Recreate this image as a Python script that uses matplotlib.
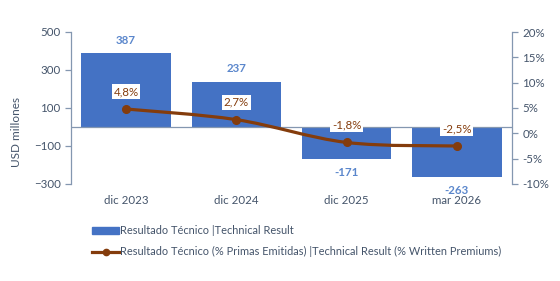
import matplotlib.pyplot as plt
from matplotlib.path import Path
from matplotlib.patches import PathPatch, Patch
from matplotlib.lines import Line2D

plt.rcParams['font.family'] = ['Lato', 'DejaVu Sans']

categories = ['dic 2023', 'dic 2024', 'dic 2025', 'mar 2026']
resultado = [387, 237, -171, -263]
pct = [4.8, 2.7, -1.8, -2.5]
pct_labels = ['4,8%', '2,7%', '-1,8%', '-2,5%']

bar_color = '#4472C4'
line_color = '#843C0C'
text_color = '#44546A'
axis_color = '#8497B0'

fig = plt.figure(figsize=(5.6, 2.81), dpi=100)
ax = fig.add_axes([71 / 560, 1 - 184 / 281, 441 / 560, 152 / 281])
ax2 = ax.twinx()

x = list(range(len(categories)))
ax.bar(x, resultado, width=0.81, color=bar_color, zorder=2)
ax.set_xlim(-0.5, len(categories) - 0.5)
ax.set_ylim(-300, 500)
ax.set_yticks([-300, -100, 100, 300, 500])
ax.axhline(0, color=axis_color, lw=0.9, zorder=3)

for i, v in enumerate(resultado):
    off = 9.5 if v > 0 else -9.5
    ax.annotate(str(v), (i, v), xytext=(0, off), textcoords='offset points',
                ha='center', va='center', fontsize=8.3, fontweight='bold',
                color='#5B87CC')

# smoothed line as bezier path through the data points
pts = list(zip(x, pct))
verts = [pts[0]]
codes = [Path.MOVETO]
n = len(pts)
for i in range(n - 1):
    p0 = pts[max(i - 1, 0)]
    p1 = pts[i]
    p2 = pts[i + 1]
    p3 = pts[min(i + 2, n - 1)]
    c1 = (p1[0] + (p2[0] - p0[0]) / 6, p1[1] + (p2[1] - p0[1]) / 6)
    c2 = (p2[0] - (p3[0] - p1[0]) / 6, p2[1] - (p3[1] - p1[1]) / 6)
    verts += [c1, c2, p2]
    codes += [Path.CURVE4] * 3
ax2.add_patch(PathPatch(Path(verts, codes), fill=False, edgecolor=line_color,
                        lw=2.3, zorder=4, capstyle='round'))
ax2.plot(x, pct, 'o', color=line_color, markersize=5.5, zorder=5)
ax2.set_ylim(-10, 20)
ax2.set_yticks([-10, -5, 0, 5, 10, 15, 20])
ax2.set_yticklabels(['-10%', '-5%', '0%', '5%', '10%', '15%', '20%'])

for i, (v, lab) in enumerate(zip(pct, pct_labels)):
    ax2.annotate(lab, (i, v), xytext=(0, 12.5), textcoords='offset points',
                 ha='center', va='center', fontsize=8.3, color=line_color,
                 bbox=dict(boxstyle='square,pad=0.15', fc='white', ec='none'),
                 zorder=6)

for a in (ax, ax2):
    a.spines['top'].set_visible(False)
    a.spines['bottom'].set_visible(False)
    a.tick_params(axis='y', colors=axis_color, labelcolor=text_color,
                  labelsize=8.3, length=4, width=0.9)
ax.spines['right'].set_visible(False)
ax2.spines['left'].set_visible(False)
ax.spines['left'].set_color(axis_color)
ax2.spines['right'].set_color(axis_color)
ax.spines['left'].set_linewidth(0.9)
ax2.spines['right'].set_linewidth(0.9)

ax.set_xticks(x)
ax.set_xticklabels(categories)
ax.tick_params(axis='x', length=0, pad=8, labelsize=8.3, labelcolor=text_color)
ax.set_ylabel('USD millones', fontsize=8.5, color=text_color)
ax.yaxis.set_label_coords(-0.112, 0.34)

handles = [Patch(color=bar_color),
           Line2D([0], [0], color=line_color, lw=2.3, marker='o', markersize=4.5)]
labels = ['Resultado Técnico |Technical Result',
          'Resultado Técnico (% Primas Emitidas) |Technical Result (% Written Premiums)']
fig.legend(handles, labels, loc='upper left', bbox_to_anchor=(0.165, 0.198),
           bbox_transform=fig.transFigure, frameon=False, fontsize=7.9,
           labelcolor=text_color, handlelength=2.4, handleheight=0.5,
           handletextpad=0.1, labelspacing=0.9, borderaxespad=0, borderpad=0)

fig.savefig('out.png', dpi=100)
